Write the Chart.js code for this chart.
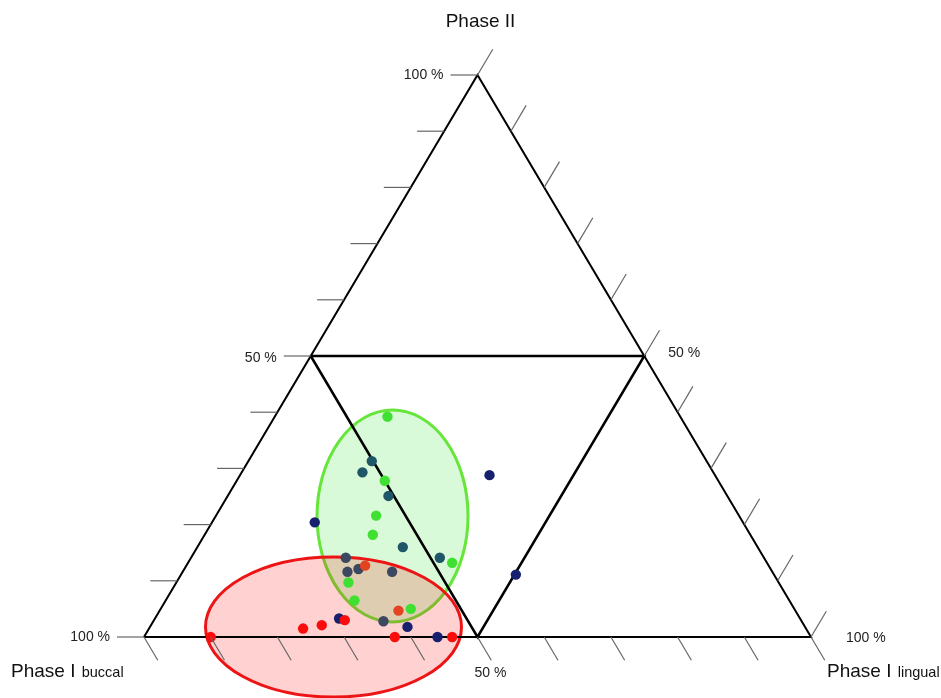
<!DOCTYPE html>
<html>
<head>
<meta charset="utf-8">
<title>Phase I / Phase II ternary plot</title>
<script src="https://cdn.jsdelivr.net/npm/chart.js@4.4.1/dist/chart.umd.min.js"></script>
<style>
  html, body { margin: 0; padding: 0; background: #fff; }
  #ternary { display: block; }
</style>
</head>
<body>
<canvas id="ternary" width="941" height="698"></canvas>
<script>
// shares in percent: Phase II (top corner) and Phase I lingual (right corner);
// Phase I buccal (left corner) is whatever is left over
const greenPhaseII = [39.2, 27.8, 21.6, 18.2, 13.2, 9.7, 6.5, 5.0];
const greenLingual = [16.9, 22.2, 24.0, 25.2, 39.6, 25.8, 28.3, 37.5];

const tealPhaseII = [31.3, 29.3, 25.1, 16.0, 14.1];
const tealLingual = [18.5, 18.1, 24.1, 30.8, 37.3];

const slatePhaseII = [14.1, 11.6, 12.1, 11.6, 2.8];
const slateLingual = [23.2, 24.7, 26.1, 31.4, 34.5];

const navyPhaseII = [20.4, 28.8, 11.1, 3.3, 1.8, 0.0];
const navyLingual = [15.4, 37.4, 50.2, 27.6, 38.6, 44.0];

const redPhaseII = [0.0, 1.5, 2.1, 3.0, 0.0, 0.0];
const redLingual = [10.0, 23.1, 25.6, 28.6, 37.6, 46.2];

const orangePhaseII = [12.7, 4.7];
const orangeLingual = [26.8, 35.8];

const tickValues = [0, 10, 20, 30, 40, 50, 60, 70, 80, 90, 100];

// ternary -> cartesian, base of the triangle is y = 0, apex at (0.5, 1)
const toXY = (lingual, phaseII) => ({ x: lingual / 100 + phaseII / 200, y: phaseII / 100 });
const pointsOf = (phaseII, lingual) => phaseII.map((p, i) => toXY(lingual[i], p));

// shaded groups, centre and radii in plot units
const groupEllipses = [
  { cx: 0.3726, cy: 0.2153, rx: 0.1132, ry: 0.1886, fill: "rgba(60, 230, 60, 0.2)", stroke: "#66e53a" },
  { cx: 0.2841, cy: 0.0178, rx: 0.1919, ry: 0.1246, fill: "rgba(255, 0, 0, 0.18)", stroke: "#ec1414" },
];

const font = (size) => `${size}px "Liberation Sans", Arial, sans-serif`;

const ternaryFrame = {
  id: "ternaryFrame",
  beforeDatasetsDraw(chart) {
    const { ctx } = chart;
    const xs = chart.scales.x;
    const ys = chart.scales.y;
    const pix = (p) => ({ x: xs.getPixelForValue(p.x), y: ys.getPixelForValue(p.y) });

    groupEllipses.forEach((e) => {
      const c = pix({ x: e.cx, y: e.cy });
      const rx = Math.abs(xs.getPixelForValue(e.cx + e.rx) - c.x);
      const ry = Math.abs(ys.getPixelForValue(e.cy + e.ry) - c.y);
      ctx.save();
      ctx.beginPath();
      ctx.ellipse(c.x, c.y, rx, ry, 0, 0, Math.PI * 2);
      ctx.fillStyle = e.fill;
      ctx.fill();
      ctx.lineWidth = 3;
      ctx.strokeStyle = e.stroke;
      ctx.stroke();
      ctx.restore();
    });
  },
  afterDatasetsDraw(chart) {
    const { ctx } = chart;
    const xs = chart.scales.x;
    const ys = chart.scales.y;
    const pix = (p) => ({ x: xs.getPixelForValue(p.x), y: ys.getPixelForValue(p.y) });

    const left = pix(toXY(0, 0));
    const right = pix(toXY(100, 0));
    const top = pix(toXY(0, 100));
    const unit = (a, b) => {
      const dx = b.x - a.x, dy = b.y - a.y, len = Math.hypot(dx, dy);
      return { x: dx / len, y: dy / len };
    };
    const up = unit(left, top);
    const down = unit(top, right);

    ctx.save();
    ctx.strokeStyle = "#666";
    ctx.lineWidth = 1.2;
    const seg = (a, b) => {
      ctx.beginPath();
      ctx.moveTo(a.x, a.y);
      ctx.lineTo(b.x, b.y);
      ctx.stroke();
    };
    const leftEnds = {};
    tickValues.forEach((t) => {
      const l = pix(toXY(0, t));
      const lEnd = { x: l.x - 27, y: l.y };
      seg(l, lEnd);
      leftEnds[t] = lEnd;

      const r = pix(toXY(100 - t, t));
      seg(r, { x: r.x + up.x * 30, y: r.y + up.y * 30 });

      const b = pix(toXY(t, 0));
      seg(b, { x: b.x + down.x * 27, y: b.y + down.y * 27 });
    });

    // tick labels
    ctx.fillStyle = "#222";
    ctx.font = font(14);
    ctx.textBaseline = "middle";
    ctx.textAlign = "right";
    ctx.fillText("100 %", leftEnds[100].x - 7, leftEnds[100].y);
    ctx.fillText("50 %", leftEnds[50].x - 7, leftEnds[50].y + 2);
    ctx.fillText("100 %", leftEnds[0].x - 7, leftEnds[0].y);

    ctx.textAlign = "left";
    const rMid = pix(toXY(50, 50));
    ctx.fillText("50 %", rMid.x + 24, rMid.y - 3);
    ctx.fillText("100 %", right.x + 35, right.y + 1);
    const bMid = pix(toXY(50, 0));
    ctx.fillText("50 %", bMid.x - 3, bMid.y + 36);

    // corner titles
    ctx.fillStyle = "#111";
    ctx.textBaseline = "alphabetic";
    ctx.textAlign = "center";
    ctx.font = font(19);
    ctx.fillText("Phase II", top.x + 3, 27);

    ctx.textAlign = "left";
    const title = (x, sub) => {
      ctx.font = font(19);
      ctx.fillText("Phase I", x, 677);
      const w = ctx.measureText("Phase I ").width;
      ctx.font = font(14.5);
      ctx.fillText(sub, x + w + 1, 677);
    };
    title(11, "buccal");
    title(827, "lingual");
    ctx.restore();
  },
};

const dots = (label, phaseII, lingual, color) => ({
  label,
  data: pointsOf(phaseII, lingual),
  backgroundColor: color,
  borderWidth: 0,
  pointRadius: 5.2,
  clip: false,
});

const outline = (label, pts, width) => ({
  label,
  data: pts,
  showLine: true,
  borderColor: "#000",
  borderWidth: width,
  pointRadius: 0,
  fill: false,
  clip: false,
});

new Chart(document.getElementById("ternary"), {
  type: "scatter",
  data: {
    datasets: [
      dots("red", redPhaseII, redLingual, "#fa0c0c"),
      dots("orange", orangePhaseII, orangeLingual, "#e3431f"),
      dots("green", greenPhaseII, greenLingual, "#3fe032"),
      dots("teal", tealPhaseII, tealLingual, "#1f5668"),
      dots("slate", slatePhaseII, slateLingual, "#3c4760"),
      dots("navy", navyPhaseII, navyLingual, "#17206e"),
      outline("inner", [toXY(0, 50), toXY(50, 50), toXY(50, 0), toXY(0, 50)], 2.5),
      outline("outer", [toXY(0, 0), toXY(100, 0), toXY(0, 100), toXY(0, 0)], 2),
    ],
  },
  options: {
    responsive: false,
    animation: false,
    layout: { padding: { left: 144, right: 130, top: 75, bottom: 61 } },
    scales: {
      x: { type: "linear", min: 0, max: 1, display: false },
      y: { type: "linear", min: 0, max: 1, display: false },
    },
    plugins: {
      legend: { display: false },
      tooltip: { enabled: false },
    },
  },
  plugins: [ternaryFrame],
});
</script>
</body>
</html>
